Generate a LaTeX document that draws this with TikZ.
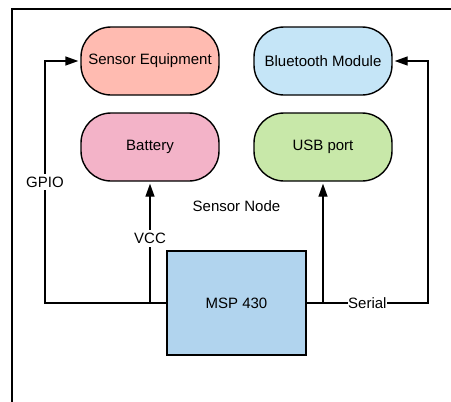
\documentclass[tikz,border=0pt]{standalone}
\usepackage{fontspec}
\setmainfont{Liberation Sans}
\usetikzlibrary{arrows.meta}
\definecolor{equipfill}{HTML}{FFBBB1}
\definecolor{btfill}{HTML}{C5E5F7}
\definecolor{batfill}{HTML}{F3B3C8}
\definecolor{usbfill}{HTML}{C8E8A9}
\definecolor{mspfill}{HTML}{B1D4EE}

\begin{document}
\begin{tikzpicture}[
  x=1pt,y=-1pt,
  >={Triangle[length=13pt,width=9pt]},
  every node/.style={font=\fontsize{15}{18}\selectfont},
  device/.style={draw,line width=1.4pt,rounded corners=30pt,
    minimum width=138pt,minimum height=68pt},
  mcu/.style={draw,line width=1.4pt,fill=mspfill,
    minimum width=139pt,minimum height=104pt},
  wire/.style={line width=1.4pt,shorten >=2pt},
  lbl/.style={fill=white,inner sep=3pt},
  tightlbl/.style={fill=white,inner sep=0.5pt}
]
  \useasboundingbox (0,0) rectangle (451,402);
  % container
  \draw[line width=1.6pt] (12,402) -- (12,9) -- (451,9);
  \node (title) at (236.5,206) {Sensor Node};

  \node[device,fill=equipfill] (equip) at (150,61) {Sensor Equipment};
  \node[device,fill=btfill] (bt) at (323,61) {Bluetooth Module};
  \node[device,fill=batfill] (bat) at (150,147) {Battery};
  \node[device,fill=usbfill] (usb) at (323,147) {USB port};
  \node[mcu] (msp) at (236.5,303) {MSP 430};

  \coordinate (gpio) at (45,303);
  \coordinate (serial) at (428,303);
  \draw[wire,->] (msp.west) -- (gpio) |- node[lbl,pos=.25] {GPIO} (equip.west);
  \draw[wire,->] (bat |- msp.west) -- node[lbl,pos=.53] {VCC} (bat.south);
  \draw[wire,->] (usb |- msp.east) -- (usb.south);
  \draw[wire,->] (msp.east) -- node[tightlbl,pos=.5] {Serial} (serial) |- (bt.east);
\end{tikzpicture}
\end{document}
